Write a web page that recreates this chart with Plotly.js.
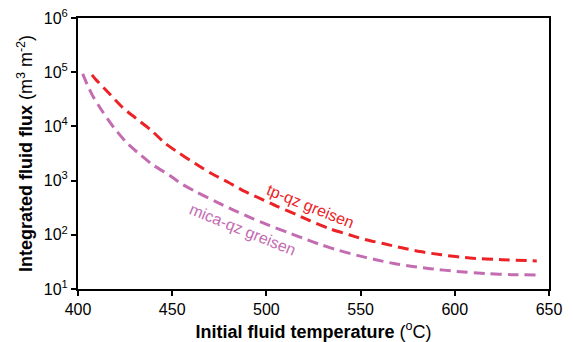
<!DOCTYPE html>
<html>
<head>
<meta charset="utf-8">
<script src="https://cdn.plot.ly/plotly-3.0.1.min.js"></script>
<style>html,body{margin:0;padding:0;background:#fff;}#chart{width:573px;height:342px;}</style>
</head>
<body>
<div id="chart"></div>
<script>
// tp-qz greisen (red)
const tpTemp = [407.4, 409.3, 416.2, 423.6, 430.8, 438.8, 446.2, 453.5, 462.0, 470.8, 479.7, 488.5, 497.4, 506, 515.5, 523.1, 533.7, 543.9, 552.8, 562, 571.8, 581.5, 593, 608, 625, 643.5];
const tpFlux = [89100, 74100, 41700, 22400, 14100, 8500, 4900, 3240, 2090, 1350, 933, 631, 457, 331, 240, 182, 129, 100, 81, 69, 57.5, 49, 42.7, 37.2, 34.7, 33];
// mica-qz greisen (purple)
const micaTemp = [402.5, 404.8, 408.0, 413.1, 419.0, 425.5, 432.6, 439.7, 448.5, 454.5, 462.3, 472.6, 482.3, 492.1, 501.8, 511.5, 519.9, 528.7, 538.6, 548.2, 558.1, 567.7, 577.6, 587, 601, 617, 630, 643.5];
const micaFlux = [93300, 60300, 35500, 18600, 9550, 5130, 3090, 1950, 1260, 891, 631, 417, 288, 204, 148, 110, 85, 66, 51.3, 41.7, 34.7, 29.5, 26, 23.7, 21.1, 19.3, 18.4, 18.2];
// axis ticks
const xTicks = [400, 450, 500, 550, 600, 650];
const yTickVals = [10, 100, 1000, 10000, 100000, 1000000];
const yTickText = ['10<sup>1</sup>', '10<sup>2</sup>', '10<sup>3</sup>', '10<sup>4</sup>', '10<sup>5</sup>', '10<sup>6</sup>'];
const seriesNames = ['tp-qz greisen', 'mica-qz greisen'];

const RED = 'rgb(236,34,39)';
const PURPLE = 'rgb(196,108,178)';
const FONT = 'Arial, "Liberation Sans", sans-serif';

const traces = [
  {x: tpTemp, y: tpFlux, mode: 'lines', name: seriesNames[0], line: {color: RED, width: 3, dash: '11px,6px', shape: 'spline', smoothing: 0.6}},
  {x: micaTemp, y: micaFlux, mode: 'lines', name: seriesNames[1], line: {color: PURPLE, width: 3, dash: '11px,6px', shape: 'spline', smoothing: 0.6}}
];

const layout = {
  width: 573, height: 342,
  margin: {l: 78, r: 24, t: 18, b: 53},
  paper_bgcolor: '#fff', plot_bgcolor: '#fff',
  showlegend: false,
  font: {family: FONT, color: '#000', size: 16},
  xaxis: {
    range: [400, 650], tickvals: xTicks, ticktext: xTicks.map(String),
    showgrid: false, zeroline: false,
    showline: true, linecolor: '#000', linewidth: 2, mirror: true,
    ticks: 'outside', ticklen: 5, tickwidth: 2, tickcolor: '#000',
    tickfont: {size: 16, family: FONT},
    title: {text: '<b>Initial fluid temperature</b> (<sup>o</sup>C)', font: {size: 18, family: FONT}, standoff: 8}
  },
  yaxis: {
    type: 'log', range: [1, 6], tickvals: yTickVals, ticktext: yTickText,
    showgrid: false, zeroline: false,
    showline: true, linecolor: '#000', linewidth: 2, mirror: true,
    ticks: 'outside', ticklen: 5, tickwidth: 2, tickcolor: '#000',
    tickfont: {size: 16, family: FONT},
    title: {text: '<b>Integrated fluid flux</b> (m<sup>3</sup> m<sup>-2</sup>)', font: {size: 18, family: FONT}, standoff: 6}
  },
  annotations: [
    {x: 523.6, y: 2.52, xref: 'x', yref: 'y', text: seriesNames[0], showarrow: false, textangle: 22, font: {size: 16, color: RED, family: FONT}},
    {x: 487.2, y: 2.09, xref: 'x', yref: 'y', text: seriesNames[1], showarrow: false, textangle: 22, font: {size: 16, color: PURPLE, family: FONT}}
  ]
};

Plotly.newPlot('chart', traces, layout, {displayModeBar: false, staticPlot: true});
</script>
</body>
</html>
